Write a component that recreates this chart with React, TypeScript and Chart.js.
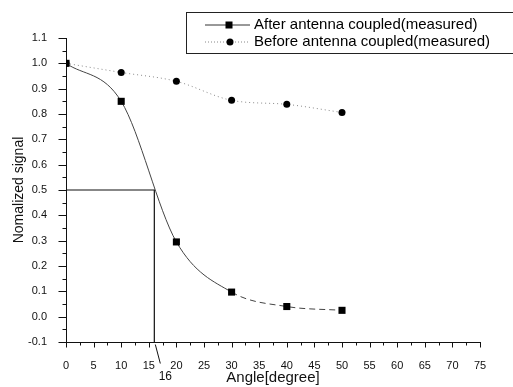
import React, { useEffect, useRef } from "react";
import { Chart, registerables } from "chart.js";

Chart.register(...registerables);

const angles = [0, 10, 20, 30, 40, 50];
const afterCoupled = [1.0, 0.85, 0.295, 0.097, 0.04, 0.025];
const beforeCoupled = [1.0, 0.964, 0.929, 0.854, 0.838, 0.806];
const guideX = [0, 16, 16];
const guideY = [0.5, 0.5, -0.1];
const markAngle = 16;
const seriesNames = ["After antenna coupled(measured)", "Before antenna coupled(measured)"];
const xTitle = "Angle[degree]";
const yTitle = "Nomalized signal";

const FONT = "'Liberation Sans', Arial, sans-serif";

const decor = {
  id: "decor",
  afterDraw(chart: any) {
    const { ctx } = chart;
    const xs = chart.scales.x;
    const ys = chart.scales.y;
    ctx.save();
    ctx.strokeStyle = "#111";
    ctx.lineWidth = 1;
    // x ticks
    const yb = Math.round(ys.getPixelForValue(-0.1)) + 0.5;
    for (let v = 0; v <= 75.001; v += 2.5) {
      const px = Math.round(xs.getPixelForValue(v)) + 0.5;
      const major = Math.abs(v / 5 - Math.round(v / 5)) < 1e-6;
      ctx.beginPath();
      ctx.moveTo(px, yb);
      ctx.lineTo(px, yb + (major ? 5 : 3));
      ctx.stroke();
    }
    // y ticks
    const xl = Math.round(xs.getPixelForValue(0)) + 0.5;
    for (let i = -2; i <= 22; i++) {
      const v = i * 0.05;
      const py = Math.round(ys.getPixelForValue(v)) + 0.5;
      const major = i % 2 === 0;
      ctx.beginPath();
      ctx.moveTo(xl, py);
      ctx.lineTo(xl - (major ? 8 : 4), py);
      ctx.stroke();
    }
    // 16 marker
    const mx = xs.getPixelForValue(markAngle);
    ctx.beginPath();
    ctx.moveTo(mx + 1, yb + 2);
    ctx.lineTo(mx + 6, yb + 21);
    ctx.stroke();
    ctx.fillStyle = "#111";
    ctx.font = "12px " + FONT;
    ctx.textAlign = "center";
    ctx.textBaseline = "middle";
    ctx.fillText(String(markAngle), mx + 11, yb + 34);

    // legend box
    const bx = 186.5, by = 12.5, bw = 340, bh = 41;
    ctx.strokeStyle = "#222";
    ctx.lineWidth = 1;
    ctx.strokeRect(bx, by, bw, bh);
    const rows = [25, 42];
    ctx.font = "15px " + FONT;
    ctx.textAlign = "left";
    // row 1
    ctx.strokeStyle = "#333";
    ctx.setLineDash([]);
    ctx.beginPath();
    ctx.moveTo(205, rows[0]);
    ctx.lineTo(250, rows[0]);
    ctx.stroke();
    ctx.fillStyle = "#000";
    ctx.fillRect(229 - 3.5, rows[0] - 3.5, 7, 7);
    ctx.fillText(seriesNames[0], 254, rows[0]);
    // row 2
    ctx.strokeStyle = "#888";
    ctx.setLineDash([1, 2]);
    ctx.beginPath();
    ctx.moveTo(205, rows[1]);
    ctx.lineTo(250, rows[1]);
    ctx.stroke();
    ctx.setLineDash([]);
    ctx.beginPath();
    ctx.arc(230, rows[1], 3.5, 0, Math.PI * 2);
    ctx.fill();
    ctx.fillText(seriesNames[1], 254, rows[1]);
    ctx.restore();
  },
};

export default function App() {
  const ref = useRef<HTMLCanvasElement | null>(null);
  useEffect(() => {
    document.body.style.margin = "0";
    const chart = new Chart(ref.current as HTMLCanvasElement, {
      type: "line",
      data: {
        datasets: [
          {
            label: "guide",
            data: guideX.map((x, i) => ({ x, y: guideY[i] })),
            borderColor: "#111",
            borderWidth: 1.2,
            pointRadius: 0,
            tension: 0,
          },
          {
            label: seriesNames[1],
            data: angles.map((x, i) => ({ x, y: beforeCoupled[i] })),
            borderColor: "#888",
            borderWidth: 1,
            borderDash: [1, 3],
            cubicInterpolationMode: "monotone",
            pointStyle: "circle",
            pointRadius: 3.5,
            pointBackgroundColor: "#000",
            pointBorderColor: "#000",
            pointBorderWidth: 0,
          },
          {
            label: seriesNames[0],
            data: angles.map((x, i) => ({ x, y: afterCoupled[i] })),
            borderColor: "#444",
            borderWidth: 1,
            cubicInterpolationMode: "monotone",
            segment: {
              borderDash: (c: any) => (c.p0.parsed.x >= 30 ? [6, 4] : undefined),
            },
            pointStyle: "rect",
            pointRadius: 5,
            pointBackgroundColor: "#000",
            pointBorderColor: "#000",
            pointBorderWidth: 0,
          },
        ],
      },
      options: {
        animation: false,
        responsive: false,
        layout: { padding: { left: 0, right: 33, top: 38, bottom: 0 } },
        plugins: { legend: { display: false }, tooltip: { enabled: false } },
        scales: {
          x: {
            type: "linear",
            min: 0,
            max: 75,
            grid: { display: false },
            border: { display: true, color: "#111", width: 1 },
            ticks: {
              stepSize: 5,
              autoSkip: false,
              maxRotation: 0,
              padding: 9,
              color: "#111",
              font: { family: FONT, size: 11 },
            },
            title: {
              display: true,
              text: xTitle,
              color: "#111",
              font: { family: FONT, size: 15 },
              padding: { top: 0, bottom: 0 },
            },
            afterFit: (s: any) => {
              s.height = 45;
            },
          },
          y: {
            type: "linear",
            min: -0.1,
            max: 1.1,
            grid: { display: false },
            border: { display: true, color: "#111", width: 1 },
            ticks: {
              stepSize: 0.1,
              padding: 11,
              color: "#111",
              font: { family: FONT, size: 11 },
              callback: (v: any) => Number(v).toFixed(1),
            },
            title: {
              display: true,
              text: yTitle,
              color: "#111",
              font: { family: FONT, size: 14 },
              padding: { top: 11, bottom: 0 },
            },
            afterFit: (s: any) => {
              s.width = 66;
            },
          },
        },
      },
      plugins: [decor],
    });
    return () => chart.destroy();
  }, []);
  return (
    <div style={{ position: "fixed", left: 0, top: 0, width: 513, height: 387, background: "#fff" }}>
      <canvas ref={ref} width={513} height={387} style={{ width: 513, height: 387 }} />
    </div>
  );
}
